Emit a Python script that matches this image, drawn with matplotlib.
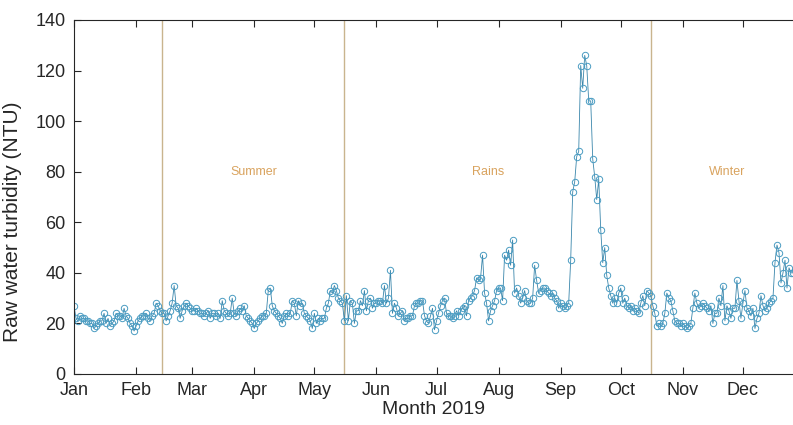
import numpy as np
import matplotlib
matplotlib.use("Agg")
import matplotlib.pyplot as plt
import datetime as dt

jan = [27,22,21,23,22,22,21,21,20,20,18,19,20,21,21,24,20,22,19,20,21,24,23,23,22,26,23,22,20,19,17]
feb = [19,21,22,23,23,24,22,21,23,24,28,27,25,24,24,21,23,25,28,35,27,26,22,25,27,28,27,26]
mar = [25,25,26,25,24,24,23,24,25,22,24,24,23,24,22,29,25,24,23,24,30,24,23,25,26,25,27,23,22,21,20]
apr = [18,20,21,22,23,23,24,33,34,27,25,24,23,22,20,23,24,23,24,29,28,23,29,27,28,24,23,22,21,18]
may = [24,20,22,21,22,22,26,28,33,32,35,33,30,29,28,21,31,21,29,28,20,25,25,29,27,33,25,29,30,26,28]
jun = [28,29,29,28,35,28,30,41,24,28,26,23,24,25,21,22,22,23,23,27,28,28,29,29,23,21,20,23,26,17.5]
jul = [21,24,27,29,30,24,23,23,22,23,25,23,25,26,27,23,29,30,31,33,38,37,38,47,32,28,21,25,27,29,33]
aug = [34,34,29,47,45,49,43,53,32,34,31,28,30,33,29,28,28,30,43,37,32,33,34,34,33,32,31,32,30,29,26]
sep = [28,27,26,27,28,45,72,76,86,88,122,113,126,122,108,108,85,78,69,77,57,44,50,39,34,31,28,30,28,32]
oct_ = [34,28,30,27,26,27,25,26,25,24,28,31,27,33,32,31,27,24,19,20,19,20,24,32,30,29,25,21,20,20,19]
nov = [20,19,18,19,20,26,32,28,26,27,28,27,26,25,27,20,24,24,30,27,35,21,27,25,22,26,26,37,29,22]
dec = [28,33,26,25,23,26,18,22,24,31,27,25,26,28,29,30,44,51,48,36,40,45,34,42,40,40,41,38,35,37,39]

turbidity = jan + feb + mar + apr + may + jun + jul + aug + sep + oct_ + nov + dec
dates = [dt.date(2019, 1, 1) + dt.timedelta(days=i) for i in range(len(turbidity))]

month_labels = ["Jan", "Feb", "Mar", "Apr", "May", "Jun", "Jul", "Aug", "Sep", "Oct", "Nov", "Dec"]
season_bounds = [dt.date(2019, 2, 14), dt.date(2019, 5, 16), dt.date(2019, 10, 16)]
season_names = ["Summer", "Rains", "Winter"]
season_label_dates = [dt.date(2019, 4, 1), dt.date(2019, 7, 27), dt.date(2019, 11, 23)]

plt.rcParams['font.family'] = ['Liberation Sans', 'DejaVu Sans']

fig = plt.figure(figsize=(7.93, 4.25), dpi=100)
ax = fig.add_axes([74/793, 1-374/425, 1-74/793, (374-20)/425])

ax.plot(dates, turbidity, color='#3a86ab', lw=0.6, marker='o', markersize=4.6,
        markerfacecolor='none', markeredgecolor='#4a9cc2', markeredgewidth=0.7)

for b in season_bounds:
    ax.axvline(b, color='#c9b48e', lw=1.0, zorder=0)
for name, d in zip(season_names, season_label_dates):
    ax.text(d, 80, name, color='#d9a35e', fontsize=9, ha='center', va='center')

ax.set_ylim(0, 140)
ax.set_yticks(np.arange(0, 141, 20))
ax.set_xlim(dt.date(2019, 1, 1), dt.date(2019, 1, 1) + dt.timedelta(days=359.5))
ticks = [dt.date(2019, m, 1) for m in range(1, 13)]
ax.set_xticks(ticks)
ax.set_xticklabels(month_labels)
ax.tick_params(direction='in', top=True, right=False, labelsize=13, length=5, width=0.8,
               colors='#262626', pad=6)
for s in ['left', 'top', 'bottom']:
    ax.spines[s].set_color('#262626')
    ax.spines[s].set_linewidth(0.8)
ax.spines['right'].set_visible(False)
ax.set_ylabel('Raw water turbidity (NTU)', fontsize=15, color='#262626')
ax.yaxis.set_label_coords(-0.073, 0.43)
ax.set_xlabel('Month 2019', fontsize=14, color='#262626', labelpad=1)

fig.savefig('out.png', dpi=100)
